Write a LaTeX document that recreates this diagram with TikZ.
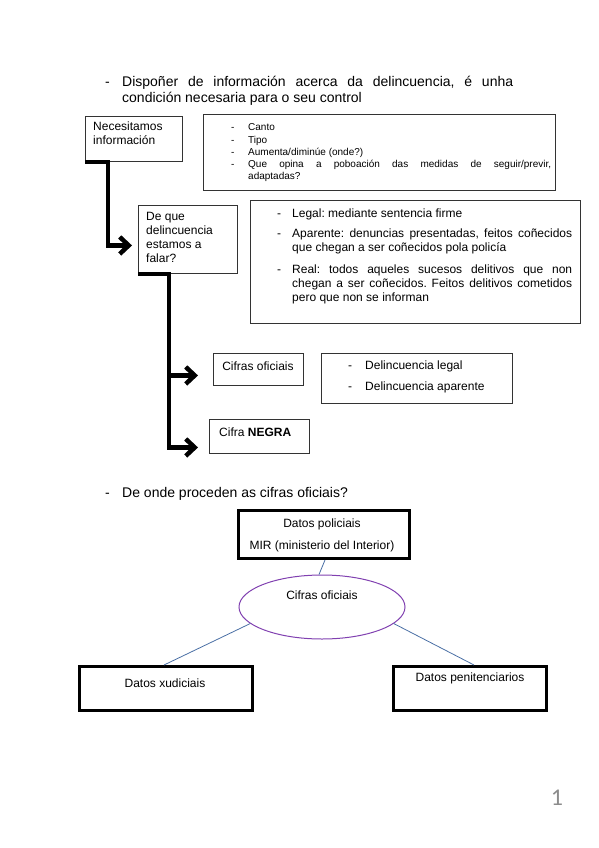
\documentclass[tikz,border=0pt]{standalone}
\usepackage{fontspec}
\setmainfont{Liberation Sans}
\newfontfamily\pagefont{Carlito}
\usetikzlibrary{arrows.meta,shapes.geometric}
\definecolor{linkblue}{HTML}{4A6FA5}
\definecolor{ellpurple}{HTML}{8040B0}
\frenchspacing
\begin{document}
\begin{tikzpicture}[x=1pt,y=-1pt,
  box/.style={draw=black!80, line width=0.9pt, rectangle, inner sep=0pt, anchor=north west},
  bbox/.style={draw=black, line width=3pt, rectangle, inner sep=0pt, anchor=north west},
  txt/.style={inner sep=0pt, anchor=base west, font=\fontsize{12}{14}\selectfont},
  ctxt/.style={txt, anchor=base},
  small/.style={inner sep=0pt, anchor=base west, font=\fontsize{10}{12}\selectfont},
  head/.style={inner sep=0pt, anchor=base west, font=\fontsize{14}{15.5}\selectfont},
  conn/.style={line width=4.5pt, line join=miter, -{Straight Barb[length=9pt,width=17pt]}},
  thinlink/.style={draw=linkblue, line width=0.8pt}]
\useasboundingbox (0,0) rectangle (599,848);

% heading 1
\node[head] (d1) at (105,87) {-};
\node[head, text width=391pt, align=justify] (h1) at (122,87) {Dispoñer de información acerca da delincuencia, é unha\linebreak condición necesaria para o seu control};

% boxes
\node[box, minimum width=97pt, minimum height=45pt] (b1) at (85,116) {};
\node[box, minimum width=352pt, minimum height=76pt] (b2) at (203,114) {};
\node[box, minimum width=99pt, minimum height=68pt] (b3) at (138,205) {};
\node[box, minimum width=330pt, minimum height=123pt] (b4) at (250,200) {};
\node[box, minimum width=90pt, minimum height=32pt] (bc) at (213,353) {};
\node[box, minimum width=191pt, minimum height=50pt] (bd) at (321,353) {};
\node[box, minimum width=100pt, minimum height=34pt] (bn) at (209,419) {};

% box 1 text
\node[txt] (t1a) at (93,131) {Necesitamos};
\node[txt] (t1b) at (93,144) {información};

% box 2 text
\node[small] (d2a) at (231,131) {-};
\node[small] (t2a) at (248,131) {Canto};
\node[small] (d2b) at (231,143) {-};
\node[small] (t2b) at (248,143) {Tipo};
\node[small] (d2c) at (231,155) {-};
\node[small] (t2c) at (248,155) {Aumenta/diminúe (onde?)};
\node[small] (d2d) at (231,167) {-};
\node[small, text width=303pt, align=justify] (t2d) at (248,167) {Que opina a poboación das medidas de seguir/previr,\linebreak adaptadas?};

% box 3 text
\node[txt] (t3a) at (146,220) {De que};
\node[txt] (t3b) at (146,234) {delincuencia};
\node[txt] (t3c) at (146,248) {estamos a};
\node[txt] (t3d) at (146,262) {falar?};

% box 4 text
\node[txt] (d4a) at (277,217) {-};
\node[txt] (t4a) at (292,217) {Legal: mediante sentencia firme};
\node[txt] (d4b) at (277,237) {-};
\node[txt, text width=280pt, align=justify] (t4b) at (292,237) {Aparente: denuncias presentadas, feitos coñecidos\linebreak que chegan a ser coñecidos pola policía};
\node[txt] (d4c) at (277,273) {-};
\node[txt, text width=280pt, align=justify] (t4c) at (292,273) {Real: todos aqueles sucesos delitivos que non\linebreak chegan a ser coñecidos. Feitos delitivos cometidos\linebreak pero que non se informan};

% cifras boxes text
\node[ctxt] (tc) at (258,370) {Cifras oficiais};
\node[txt] (dda) at (348,369) {-};
\node[txt] (tda) at (365,369) {Delincuencia legal};
\node[txt] (ddb) at (348,390) {-};
\node[txt] (tdb) at (365,390) {Delincuencia aparente};
\node[txt] (tn) at (219,436) {Cifra \textbf{NEGRA}};

% thick connectors
\draw[conn, shorten >=6pt] (b1.south west) -- ++(23,0) |- ([yshift=-6pt]b3.west);
\draw[conn, shorten >=15pt] (b3.south west) -- ++(31,0) coordinate (j) |- ([yshift=-6pt]bc.west);
\draw[conn, shorten >=11pt] (j) |- ([yshift=-11pt]bn.west);

% heading 2
\node[head] (d2) at (105,497) {-};
\node[head] (h2) at (122,497) {De onde proceden as cifras oficiais?};

% lower diagram
\node[bbox, minimum width=171pt, minimum height=48pt] (pol) at (237,509) {};
\node[ctxt] (tpa) at (322,527) {Datos policiais};
\node[ctxt] (tpb) at (322,549) {MIR (ministerio del Interior)};
\node[draw=ellpurple, line width=1pt, ellipse, minimum width=166pt, minimum height=64pt, inner sep=0pt] (ell) at (322,607) {};
\node[ctxt] (te) at (322,599) {Cifras oficiais};
\node[bbox, minimum width=173pt, minimum height=44pt] (xud) at (78,665) {};
\node[ctxt] (tx) at (165,687) {Datos xudiciais};
\node[bbox, minimum width=153pt, minimum height=44pt] (pen) at (392,665) {};
\node[ctxt] (tpe) at (470,681) {Datos penitenciarios};

\draw[thinlink] ([xshift=1pt]pol.south) -- ([xshift=-3pt]ell.north);
\draw[thinlink] (ell.193) -- ([xshift=-2pt]xud.north);
\draw[thinlink] (ell.-13) -- ([xshift=4pt]pen.north);

% page number
\node[inner sep=0pt, anchor=base, text=black!45, font=\pagefont\fontsize{24}{24}\selectfont] (pg) at (557,805) {1};
\end{tikzpicture}
\end{document}
